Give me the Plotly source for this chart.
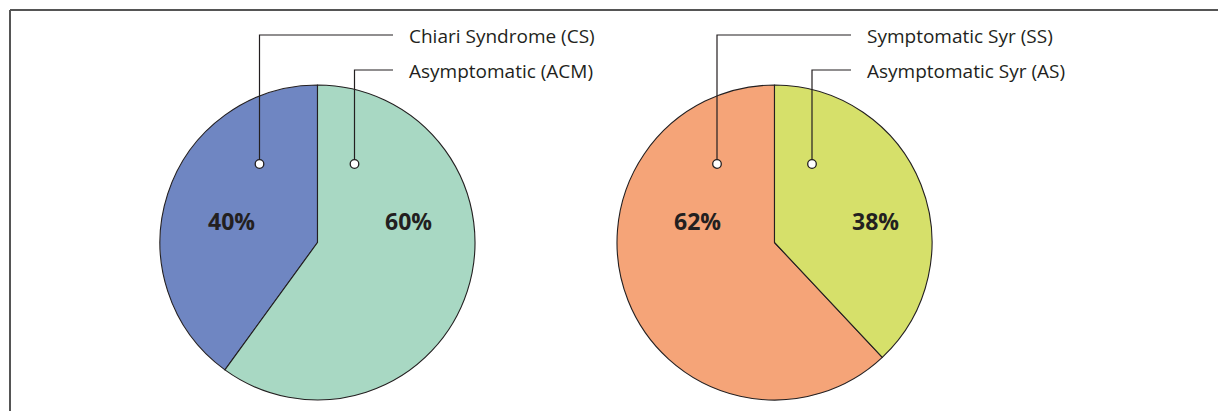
import plotly.graph_objects as go

W, H = 1218, 411

# Data
left_labels = ["Chiari Syndrome (CS)", "Asymptomatic (ACM)"]
left_values = [40, 60]
right_labels = ["Symptomatic Syr (SS)", "Asymptomatic Syr (AS)"]
right_values = [62, 38]

left_colors = ["#6f86c2", "#a8d8c3"]
right_colors = ["#f5a478", "#d6e06a"]

INK = "#231f20"

# Layout geometry (pixels)
R = 157.5
CY = 242.5
left_cx, right_cx = 317.5, 774.5


def dom(cx):
    return dict(x=[(cx - R) / W, (cx + R) / W], y=[(H - CY - R) / H, (H - CY + R) / H])


fig = go.Figure()
for vals, labs, cols, cx in [(left_values, left_labels, left_colors, left_cx),
                             (right_values, right_labels, right_colors, right_cx)]:
    # first slice sits to the left of 12 o'clock, the second continues clockwise from 12 o'clock
    rot = -360.0 * vals[0] / sum(vals)
    fig.add_trace(go.Pie(
        values=vals, labels=labs, sort=False, direction="clockwise", rotation=rot,
        marker=dict(colors=cols, line=dict(color=INK, width=1.1)),
        textinfo="none", hoverinfo="label+percent", domain=dom(cx), showlegend=False,
    ))

# invisible anchor trace so the pixel-scaled axes exist
fig.add_trace(go.Scatter(x=[0, W], y=[0, H], mode="markers", marker=dict(opacity=0),
                         hoverinfo="skip", showlegend=False))

# Leader lines: (dot x, line top y, line end x, label x)
leaders = [
    (left_cx - 58, 35, 393, 407, left_labels[0]),
    (left_cx + 37, 70, 393, 407, left_labels[1]),
    (right_cx - 57.5, 35, 851, 865, right_labels[0]),
    (right_cx + 37.5, 70, 851, 865, right_labels[1]),
]
DOT_Y = 164
DOT_R = 4.3
for dx, ty, ex, lx, lab in leaders:
    fig.add_shape(type="path", xref="x", yref="y", layer="above",
                  path=f"M{dx},{DOT_Y} L{dx},{ty} L{ex},{ty}",
                  line=dict(color=INK, width=1.2))
    fig.add_shape(type="circle", xref="x", yref="y", layer="above",
                  x0=dx - DOT_R, x1=dx + DOT_R, y0=DOT_Y - DOT_R, y1=DOT_Y + DOT_R,
                  fillcolor="white", line=dict(color=INK, width=1.3))
    fig.add_annotation(x=lx, y=ty + 1, xref="x", yref="y", text=lab, showarrow=False,
                       xanchor="left", yanchor="middle",
                       font=dict(family="Open Sans", size=19, color=INK))

# Percentage labels
pct_pos = [(231.5, left_values[0]), (408.5, left_values[1]),
           (697, right_values[0]), (875, right_values[1])]
for x, v in pct_pos:
    fig.add_annotation(x=x, y=221, xref="x", yref="y", text=f"<b>{v}%</b>", showarrow=False,
                       xanchor="center", yanchor="middle",
                       font=dict(family="Open Sans", size=23, color=INK))

# Frame (left and top)
fig.add_shape(type="line", xref="x", yref="y", x0=10, x1=W, y0=10, y1=10,
              line=dict(color="#555555", width=2))
fig.add_shape(type="line", xref="x", yref="y", x0=10, x1=10, y0=10, y1=H,
              line=dict(color="#555555", width=2))

fig.update_layout(
    width=W, height=H, margin=dict(l=0, r=0, t=0, b=0),
    paper_bgcolor="white", plot_bgcolor="rgba(0,0,0,0)",
    xaxis=dict(range=[0, W], visible=False, fixedrange=True, domain=[0, 1]),
    yaxis=dict(range=[H, 0], visible=False, fixedrange=True, domain=[0, 1]),
)

fig.write_html("out.html", config={"displayModeBar": False},
               post_script="document.body.style.margin='0';document.body.style.padding='0';")
